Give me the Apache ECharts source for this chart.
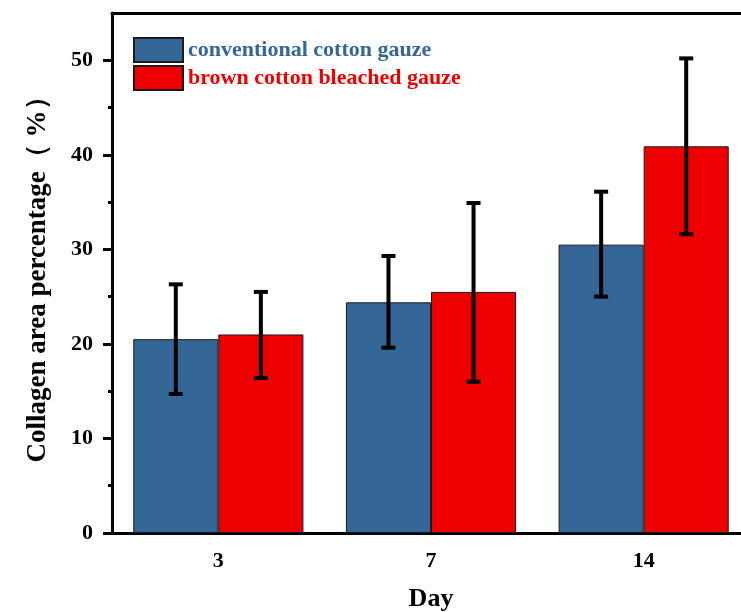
<!DOCTYPE html>
<html><head><meta charset="utf-8">
<script src="https://cdn.jsdelivr.net/npm/echarts@6/dist/echarts.min.js"></script>
<style>html,body{margin:0;padding:0;background:#fff;overflow:hidden}#c{width:741px;height:612px}</style>
</head><body><div id="c"></div>
<script>
const categories = ['3', '7', '14'];
const seriesNames = ['conventional cotton gauze', 'brown cotton bleached gauze'];
const conventional = [20.5, 24.4, 30.5];
const conventionalLow = [14.7, 19.6, 25.0];
const conventionalHigh = [26.3, 29.3, 36.1];
const bleached = [21.0, 25.5, 40.9];
const bleachedLow = [16.4, 16.0, 31.6];
const bleachedHigh = [25.5, 34.9, 50.2];
const yTicks = [0, 10, 20, 30, 40, 50];
const yMinorTicks = [5, 15, 25, 35, 45];

const FONT = '"Liberation Serif", "Times New Roman", serif';
const BLUE = '#346798';
const RED = '#ee0000';

function errSeries(low, high, idx) {
  return {
    type: 'custom',
    xAxisIndex: 0, yAxisIndex: 0, z: 10,
    encode: { x: 0, y: [1, 2] },
    data: categories.map((c, i) => [i, low[i], high[i]]),
    renderItem(params, api) {
      const band = api.size([1, 0])[0];
      const barW = band * 0.8 / 2;
      const off = (idx === 0 ? -1 : 1) * barW / 2;
      const lo = api.coord([api.value(0), api.value(1)]);
      const hi = api.coord([api.value(0), api.value(2)]);
      const x = lo[0] + off;
      const cap = 7;
      const st = { stroke: '#000', lineWidth: 4 };
      return { type: 'group', children: [
        { type: 'line', shape: { x1: x, y1: lo[1], x2: x, y2: hi[1] }, style: st },
        { type: 'line', shape: { x1: x - cap, y1: lo[1], x2: x + cap, y2: lo[1] }, style: st },
        { type: 'line', shape: { x1: x - cap, y1: hi[1], x2: x + cap, y2: hi[1] }, style: st }
      ]};
    }
  };
}

const chart = echarts.init(document.getElementById('c'), null, { renderer: 'canvas' });
chart.setOption({
  animation: false,
  backgroundColor: '#fff',
  textStyle: { fontFamily: FONT },
  grid: { left: 112, right: -9, top: 13, bottom: 79, containLabel: false, outerBoundsMode: 'none' },
  legend: {
    orient: 'vertical', left: 133, top: 37, padding: 0,
    itemWidth: 49, itemHeight: 24, itemGap: 2,
    icon: 'rect',
    data: [
      { name: seriesNames[0], textStyle: { color: BLUE } },
      { name: seriesNames[1], textStyle: { color: RED } }
    ],
    textStyle: { fontFamily: FONT, fontWeight: 'bold', fontSize: 22 }
  },
  xAxis: [
    {
      type: 'category', data: categories, position: 'bottom',
      name: 'Day', nameLocation: 'middle', nameGap: 53,
      nameTextStyle: { fontFamily: FONT, fontWeight: 'bold', fontSize: 26, color: '#000' },
      axisLine: { lineStyle: { color: '#000', width: 3 } },
      axisTick: { alignWithLabel: true, length: 8, lineStyle: { color: '#000', width: 3 } },
      axisLabel: { fontFamily: FONT, fontWeight: 'bold', fontSize: 22, color: '#000', margin: 17 }
    },
    {
      type: 'category', data: categories, position: 'bottom',
      axisLine: { show: false },
      axisTick: { length: 4, lineStyle: { color: '#000', width: 3 } },
      axisLabel: { show: false }
    },
    {
      type: 'category', data: categories, position: 'top',
      axisLine: { lineStyle: { color: '#000', width: 3 } },
      axisTick: { show: false },
      axisLabel: { show: false }
    }
  ],
  yAxis: [
    {
      type: 'value', min: 0, max: 55, interval: 10, position: 'left',
      name: 'Collagen area percentage（ %）', nameLocation: 'middle', nameGap: 60,
      nameTextStyle: { fontFamily: FONT, fontWeight: 'bold', fontSize: 27, color: '#000' },
      axisLine: { show: true, lineStyle: { color: '#000', width: 3 } },
      axisTick: { show: true, customValues: yTicks, length: 9, lineStyle: { color: '#000', width: 3 } },
      axisLabel: { customValues: yTicks, fontFamily: FONT, fontWeight: 'bold', fontSize: 22, color: '#000', margin: 19 },
      splitLine: { show: false }
    },
    {
      type: 'value', min: 0, max: 55, interval: 10, position: 'left',
      axisLine: { show: false },
      axisTick: { show: true, customValues: yMinorTicks, length: 4, lineStyle: { color: '#000', width: 3 } },
      axisLabel: { show: false },
      splitLine: { show: false }
    }
  ],
  series: [
    {
      name: seriesNames[0], type: 'bar', data: conventional,
      barCategoryGap: '20%', barGap: '0%',
      itemStyle: { color: BLUE, borderColor: '#1a1a1a', borderWidth: 1 }
    },
    {
      name: seriesNames[1], type: 'bar', data: bleached,
      barCategoryGap: '20%', barGap: '0%',
      itemStyle: { color: RED, borderColor: '#1a1a1a', borderWidth: 1 }
    },
    errSeries(conventionalLow, conventionalHigh, 0),
    errSeries(bleachedLow, bleachedHigh, 1)
  ]
});
</script>
</body></html>
